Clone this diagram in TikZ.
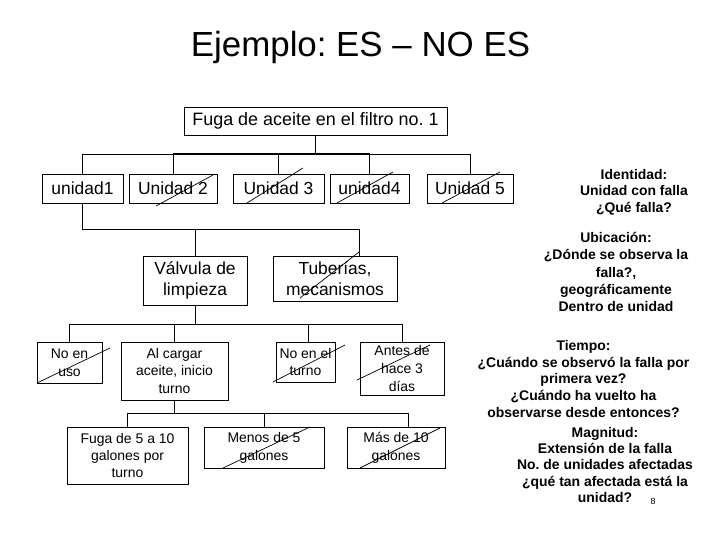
\documentclass[tikz,border=0pt]{standalone}
\usepackage{fontspec}
\setmainfont{Liberation Sans}
\frenchspacing
\begin{document}
\begin{tikzpicture}[x=1bp,y=-1bp,
  box/.style={draw, line width=0.8bp, inner sep=0pt, align=center},
  conn/.style={line width=0.8bp},
  strike/.style={line width=0.7bp},
  ubig/.style={font=\fontsize{17.5}{20.5}\selectfont},
  usmall/.style={font=\fontsize{14}{18}\selectfont},
  side/.style={align=center, inner sep=0pt}]
\useasboundingbox (0,0) rectangle (720,540);

% title
\node[font=\fontsize{35}{40}\selectfont, anchor=base, inner sep=0pt] (title) at (360.5,57) {Ejemplo: ES – NO ES};

% level 0
\node[box, minimum width=263bp, minimum height=28bp, font=\fontsize{18}{21}\selectfont] (root) at (315.5,121) {Fuga de aceite en el filtro no. 1};

% level 1
\node[box, ubig, minimum width=81bp, minimum height=29bp] (u1) at (82.5,188.5) {unidad1};
\node[box, ubig, minimum width=88bp, minimum height=29bp] (u2) at (173,188.5) {Unidad 2};
\node[box, ubig, minimum width=91bp, minimum height=29bp] (u3) at (278.5,188.5) {Unidad 3};
\node[box, ubig, minimum width=79bp, minimum height=29bp] (u4) at (369.5,188.5) {unidad4};
\node[box, ubig, minimum width=86bp, minimum height=29bp] (u5) at (470,188.5) {Unidad 5};

% level 2
\node[box, ubig, minimum width=104bp, minimum height=49bp] (val) at (195,280.5) {Válvula de\\limpieza};
\node[box, ubig, minimum width=124bp, minimum height=45bp] (tub) at (335,278.5) {Tuberías,\\mecanismos};

% level 3
\node[box, usmall, minimum width=65bp, minimum height=41bp] (noenuso) at (69.5,362.5) {No en\\uso};
\node[box, usmall, minimum width=107bp, minimum height=58bp] (alcargar) at (174.5,371) {Al cargar\\aceite, inicio\\turno};
\node[box, usmall, minimum width=59bp, minimum height=40bp] (noturno) at (305.5,362) {No en el\\turno};
\node[box, usmall, minimum width=84bp, minimum height=53bp] (antes) at (402,368.5) {Antes de\\hace 3\\días};

% level 4
\node[box, font=\fontsize{14}{17}\selectfont, minimum width=121bp, minimum height=57bp] (fuga) at (127.5,455.5) {Fuga de 5 a 10\\galones por\\turno};
\node[box, usmall, minimum width=120bp, minimum height=41bp] (menos) at (264,447.5) {Menos de 5\\galones};
\node[box, usmall, minimum width=98bp, minimum height=41bp] (mas) at (396,447.5) {Más de 10\\galones};

% junction levels
\coordinate (j1) at (0,154);
\coordinate (j2) at (0,229);
\coordinate (j3) at (0,324);
\coordinate (j4) at (0,413);
\coordinate (tubin) at ([xshift=-38bp]tub.north east);
\coordinate (masin) at ([xshift=-37bp]mas.north east);

% connectors level 0 -> 1
\draw[conn] (root.south) -- (root.south |- j1);
\draw[conn] (u1.north) |- (u5.north |- j1) -- (u5.north);
\draw[line width=1.8bp] ([yshift=0.5bp]u2.north |- j1) -- ([yshift=0.5bp]u4.north |- j1);
\draw[conn] (u2.north) -- (u2.north |- j1);
\draw[conn] (u3.north) -- (u3.north |- j1);
\draw[conn] (u4.north) -- (u4.north |- j1);

% level 1 -> 2
\draw[conn] (u1.south) |- (tubin |- j2) -- (tubin);
\draw[conn] (val.north) -- (val.north |- j2);

% level 2 -> 3
\draw[conn] (val.south) -- (val.south |- j3);
\draw[conn] (noenuso.north) |- (antes.north |- j3) -- (antes.north);
\draw[conn] (alcargar.north) -- (alcargar.north |- j3);
\draw[conn] ([xshift=2.5bp]noturno.north) -- ([xshift=2.5bp]noturno.north |- j3);

% level 3 -> 4
\draw[conn] (alcargar.south) -- (alcargar.south |- j4);
\draw[conn] (fuga.north) |- (masin |- j4) -- (masin);
\draw[conn] (menos.north) -- (menos.north |- j4);

% strike-through marks
\draw[strike] (156,206) -- (213,175);
\draw[strike] (247,203) -- (303,168);
\draw[strike] (337,203) -- (393,172);
\draw[strike] (442,203) -- (500,172);
\draw[strike] (300,298) -- (359,252);
\draw[strike] (37,383) -- (110,348);
\draw[strike] (273,382) -- (345,345);
\draw[strike] (357,380) -- (430,345);
\draw[strike] (223,468) -- (310,427);
\draw[strike] (360,468) -- (440,428);

% side notes
\node[side, font=\fontsize{14}{16.5}\bfseries] (ident) at (634,192) {Identidad:\\Unidad con falla\\¿Qué falla?};
\node[side, font=\fontsize{14}{17.5}\bfseries] (ubic) at (616,272) {Ubicación:\\¿Dónde se observa la\\falla?,\\geográficamente\\Dentro de unidad};
\node[side, font=\fontsize{14}{16.8}\bfseries] (tiempo) at (583.5,379) {Tiempo:\\¿Cuándo se observó la falla por\\primera vez?\\¿Cuándo ha vuelto ha\\observarse desde entonces?};
\node[side, font=\fontsize{14}{16.5}\bfseries] (magn) at (605,465) {Magnitud:\\Extensión de la falla\\No. de unidades afectadas\\¿qué tan afectada está la\\unidad?};
\node[font=\fontsize{9}{10}\selectfont, inner sep=0pt] (pg) at (653,501) {8};
\end{tikzpicture}
\end{document}
